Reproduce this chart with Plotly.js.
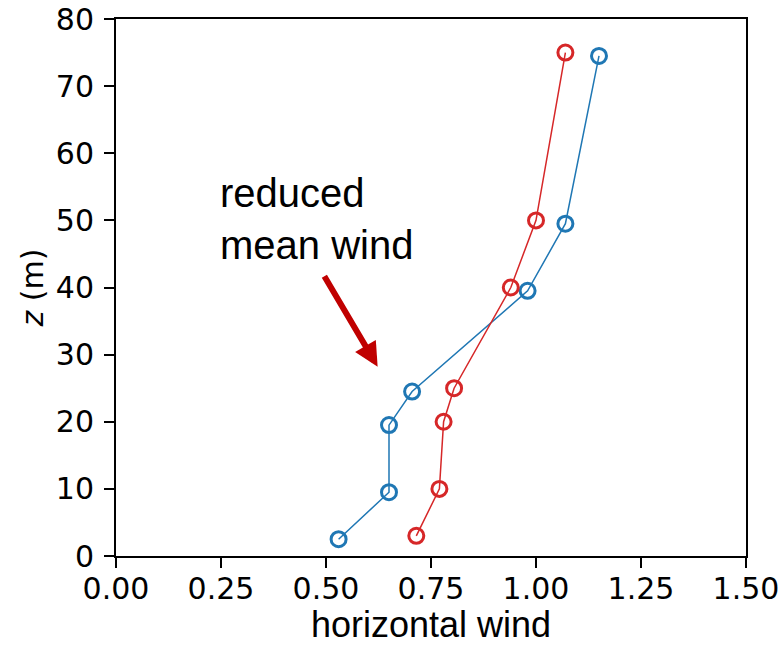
<!DOCTYPE html>
<html>
<head>
<meta charset="utf-8">
<script src="https://cdn.plot.ly/plotly-3.0.1.min.js"></script>
<style>html,body{margin:0;padding:0;background:#fff}#chart{width:782px;height:645px}</style>
</head>
<body>
<div id="chart"></div>
<script>
// Data
const blueWind = [0.53, 0.65, 0.65, 0.705, 0.98, 1.07, 1.15];
const blueZ    = [2.5, 9.5, 19.5, 24.5, 39.5, 49.5, 74.5];
const redWind  = [0.715, 0.77, 0.78, 0.805, 0.94, 1.0, 1.07];
const redZ     = [3, 10, 20, 25, 40, 50, 75];
const xTicks = [0, 0.25, 0.5, 0.75, 1.0, 1.25, 1.5];
const yTicks = [0, 10, 20, 30, 40, 50, 60, 70, 80];
const annotationText = 'reduced<br>mean wind';

const tickFont = {family: 'DejaVu Sans', size: 30, color: '#000'};
const labelFont = {family: 'Liberation Sans, Arial', size: 36, color: '#000'};

function series(x, y, color) {
  return {
    x: x, y: y, type: 'scatter', mode: 'lines+markers',
    line: {color: color, width: 1.5},
    marker: {symbol: 'circle-open', size: 15, color: color, line: {color: color, width: 3}},
    showlegend: false, hoverinfo: 'skip'
  };
}

const data = [series(blueWind, blueZ, '#1f77b4'), series(redWind, redZ, '#d62728')];

const axisCommon = {
  showgrid: false, zeroline: false, showline: true, mirror: true,
  linecolor: '#000', linewidth: 2, ticks: 'outside', ticklen: 10, tickwidth: 2,
  tickcolor: '#000', tickfont: tickFont
};

const layout = {
  width: 782, height: 645,
  margin: {l: 116, r: 36, t: 19, b: 89},
  paper_bgcolor: '#fff', plot_bgcolor: '#fff',
  xaxis: Object.assign({}, axisCommon, {
    range: [0, 1.5], tickvals: xTicks, tickformat: '.2f', ticklabelstandoff: -5,
    title: {text: 'horizontal wind', font: labelFont, standoff: 10}
  }),
  yaxis: Object.assign({}, axisCommon, {
    range: [0, 80], tickvals: yTicks, ticklabelstandoff: 4,
    title: {text: '<i>z</i> (m)', font: {family: 'DejaVu Sans', size: 30, color: '#000'}, standoff: 3}
  }),
  annotations: [
    {
      xref: 'x', yref: 'y', x: 0.244, y: 57.6, xanchor: 'left', yanchor: 'top', align: 'left',
      text: annotationText, showarrow: false,
      font: {family: 'Liberation Sans, Arial', size: 40, color: '#000'}
    },
    {
      xref: 'x', yref: 'y', axref: 'x', ayref: 'y',
      x: 0.623, y: 28.2, ax: 0.494, ay: 41.9,
      text: '', showarrow: true, arrowhead: 2, arrowsize: 0.8, arrowwidth: 6,
      arrowcolor: '#c00000', standoff: 0, startstandoff: 0
    }
  ]
};

Plotly.newPlot('chart', data, layout, {displayModeBar: false, staticPlot: true});
</script>
</body>
</html>
